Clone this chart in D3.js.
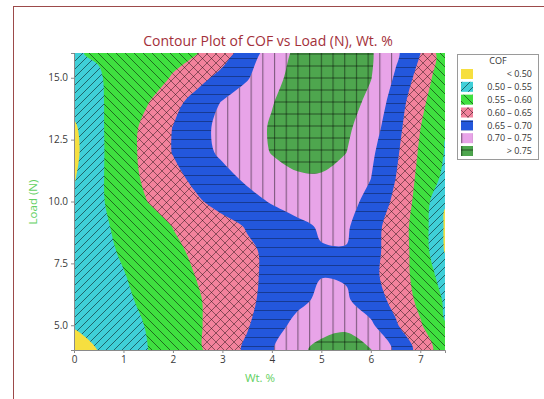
<!DOCTYPE html>
<html>
<head>
<meta charset="utf-8">
<script src="https://cdn.jsdelivr.net/npm/d3@7"></script>
<style>
  body { margin: 0; background: #fff; }
</style>
</head>
<body>
<div id="chart"></div>
<script>
// grid of the fitted COF surface
var wtPct = [0, 0.5, 1, 1.5, 2, 2.5, 3, 3.5, 4, 4.5, 5, 5.5, 6, 6.5, 7, 7.5];
var loadN = [4, 5, 6, 7, 8, 9, 10, 11, 12, 13, 14, 15, 16];

// one row of COF values per load level (columns follow wtPct)
var cof_L4  = [0.470, 0.502, 0.526, 0.550, 0.572, 0.593, 0.624, 0.659, 0.696, 0.737, 0.765, 0.768, 0.752, 0.691, 0.633, 0.570];
var cof_L5  = [0.505, 0.521, 0.535, 0.553, 0.574, 0.595, 0.620, 0.646, 0.682, 0.711, 0.732, 0.743, 0.708, 0.656, 0.605, 0.551];
var cof_L6  = [0.515, 0.529, 0.543, 0.559, 0.577, 0.596, 0.618, 0.641, 0.665, 0.690, 0.708, 0.706, 0.676, 0.636, 0.588, 0.545];
var cof_L7  = [0.520, 0.534, 0.548, 0.566, 0.584, 0.602, 0.622, 0.642, 0.659, 0.675, 0.699, 0.696, 0.662, 0.628, 0.580, 0.530];
var cof_L8  = [0.520, 0.538, 0.555, 0.573, 0.591, 0.609, 0.626, 0.643, 0.659, 0.676, 0.696, 0.698, 0.668, 0.625, 0.580, 0.497];
var cof_L9  = [0.515, 0.540, 0.562, 0.581, 0.601, 0.619, 0.636, 0.653, 0.671, 0.684, 0.707, 0.706, 0.670, 0.626, 0.578, 0.495];
var cof_L10 = [0.508, 0.543, 0.572, 0.601, 0.622, 0.645, 0.665, 0.684, 0.704, 0.727, 0.735, 0.712, 0.690, 0.639, 0.581, 0.502];
var cof_L11 = [0.496, 0.542, 0.579, 0.611, 0.638, 0.663, 0.686, 0.710, 0.735, 0.746, 0.747, 0.729, 0.701, 0.651, 0.586, 0.540];
var cof_L12 = [0.488, 0.541, 0.580, 0.616, 0.652, 0.682, 0.709, 0.731, 0.752, 0.763, 0.764, 0.751, 0.709, 0.660, 0.593, 0.548];
var cof_L13 = [0.493, 0.542, 0.579, 0.614, 0.651, 0.685, 0.712, 0.733, 0.754, 0.771, 0.781, 0.760, 0.722, 0.669, 0.601, 0.552];
var cof_L14 = [0.515, 0.544, 0.572, 0.599, 0.635, 0.670, 0.703, 0.725, 0.748, 0.769, 0.790, 0.772, 0.737, 0.678, 0.612, 0.560];
var cof_L15 = [0.530, 0.547, 0.565, 0.583, 0.603, 0.634, 0.665, 0.696, 0.734, 0.767, 0.794, 0.779, 0.752, 0.694, 0.631, 0.565];
var cof_L16 = [0.548, 0.553, 0.563, 0.576, 0.588, 0.599, 0.629, 0.673, 0.724, 0.759, 0.788, 0.783, 0.755, 0.710, 0.651, 0.570];

// contour levels and legend text
var levels = [0.50, 0.55, 0.60, 0.65, 0.70, 0.75];
var bandLabels = ["< 0.50", "0.50 \u2013 0.55", "0.55 \u2013 0.60", "0.60 \u2013 0.65", "0.65 \u2013 0.70", "0.70 \u2013 0.75", "> 0.75"];

// tick labels
var xTicks = [0, 1, 2, 3, 4, 5, 6, 7];
var yTicks = [5.0, 7.5, 10.0, 12.5, 15.0];

var cofRows = [cof_L4, cof_L5, cof_L6, cof_L7, cof_L8, cof_L9, cof_L10, cof_L11, cof_L12, cof_L13, cof_L14, cof_L15, cof_L16];

// styles for each band (fill colour + hatch pattern)
var bandFill = ["#f6df40", "#3fcfd8", "#3fe03f", "#f2829c", "#2357dc", "#e8a4e8", "#4ea64e"];
var bandHatch = [null, "slash", "back", "cross", "horiz", "vert", "grid"];

var width = 544, height = 399;
var plot = {left: 74, right: 445, top: 53, bottom: 350};

var svg = d3.select("#chart").append("svg")
    .attr("width", width)
    .attr("height", height)
    .style("font-family", "'Open Sans','Noto Sans',sans-serif");

svg.append("rect").attr("width", width).attr("height", height).attr("fill", "#fff");

// outer frame
svg.append("rect")
    .attr("x", 13.5).attr("y", 6.5)
    .attr("width", 560).attr("height", 420)
    .attr("fill", "none")
    .attr("stroke", "#9c4a4a")
    .attr("stroke-width", 1);

var x = d3.scaleLinear().domain([0, 7.5]).range([plot.left, plot.right]);
var y = d3.scaleLinear().domain([4, 16]).range([plot.bottom, plot.top]);

var defs = svg.append("defs");

defs.append("clipPath").attr("id", "plotClip")
    .append("rect")
    .attr("x", plot.left).attr("y", plot.top)
    .attr("width", plot.right - plot.left)
    .attr("height", plot.bottom - plot.top);

// hatch patterns
function addPattern(id, w, h, d, op) {
    defs.append("pattern")
        .attr("id", id)
        .attr("patternUnits", "userSpaceOnUse")
        .attr("width", w).attr("height", h)
        .append("path")
        .attr("d", d)
        .attr("stroke", "#000")
        .attr("stroke-opacity", op)
        .attr("stroke-width", 0.85)
        .attr("fill", "none");
}
addPattern("slash", 8, 8, "M-2,2L2,-2M0,8L8,0M6,10L10,6", 0.6);
addPattern("back", 9, 9, "M-2,7L2,11M0,0L9,9M7,-2L11,2", 0.6);
addPattern("cross", 9, 9, "M-2,2L2,-2M0,9L9,0M7,11L11,7M-2,7L2,11M0,0L9,9M7,-2L11,2", 0.5);
addPattern("horiz", 9, 9, "M0,4.5L9,4.5", 0.4);
addPattern("vert", 11.7, 12, "M5.5,0L5.5,12", 0.6);
addPattern("grid", 11.7, 12, "M5.5,0L5.5,12M0,6L11.7,6", 0.6);

// contours of the grid
var nx = wtPct.length, ny = loadN.length;
var dxStep = wtPct[1] - wtPct[0], dyStep = loadN[1] - loadN[0];
var values = [];
cofRows.forEach(function (row) { row.forEach(function (v) { values.push(v); }); });

var contours = d3.contours()
    .size([nx, ny])
    .thresholds(levels)(values);

// grid sample i sits at i + 0.5 in contour space
var ringLine = d3.line()
    .x(function (p) { return x(wtPct[0] + (p[0] - 0.5) * dxStep); })
    .y(function (p) { return y(loadN[0] + (p[1] - 0.5) * dyStep); })
    .curve(d3.curveCatmullRomClosed.alpha(0.5));

function contourPath(c) {
    return c.coordinates.map(function (poly) {
        return poly.map(function (ring) { return ringLine(ring.slice(0, -1)); }).join("");
    }).join("");
}

var gPlot = svg.append("g").attr("clip-path", "url(#plotClip)");

// lowest band fills the whole plot
gPlot.append("rect")
    .attr("x", plot.left).attr("y", plot.top)
    .attr("width", plot.right - plot.left)
    .attr("height", plot.bottom - plot.top)
    .attr("fill", bandFill[0]);

contours.forEach(function (c, i) {
    var d = contourPath(c);
    if (!d) return;
    gPlot.append("path")
        .attr("d", d)
        .attr("fill", bandFill[i + 1])
        .attr("fill-rule", "evenodd");
    gPlot.append("path")
        .attr("d", d)
        .attr("fill", "url(#" + bandHatch[i + 1] + ")")
        .attr("fill-rule", "evenodd");
});

// axes
var xAxis = svg.append("g")
    .attr("transform", "translate(0," + plot.bottom + ")")
    .call(d3.axisBottom(x).tickValues(xTicks).tickSize(3).tickFormat(d3.format("d")));
var yAxis = svg.append("g")
    .attr("transform", "translate(" + plot.left + ",0)")
    .call(d3.axisLeft(y).tickValues(yTicks).tickSize(3).tickFormat(d3.format(".1f")));

[xAxis, yAxis].forEach(function (a) {
    a.selectAll("path, line").attr("stroke", "#8a8a8a");
    a.selectAll("text")
        .attr("fill", "#3a3a3a")
        .style("font-size", "10px")
        .style("font-family", "'Open Sans','Noto Sans',sans-serif");
});

// title and axis titles
svg.append("text")
    .attr("x", 268).attr("y", 46)
    .attr("text-anchor", "middle")
    .attr("fill", "#a3303a")
    .style("font-size", "14px")
    .text("Contour Plot of COF vs Load (N), Wt. %");

svg.append("text")
    .attr("x", 260).attr("y", 382)
    .attr("text-anchor", "middle")
    .attr("fill", "#62d062")
    .style("font-size", "11.5px")
    .text("Wt. %");

svg.append("text")
    .attr("transform", "translate(37,202) rotate(-90)")
    .attr("text-anchor", "middle")
    .attr("fill", "#62d062")
    .style("font-size", "11.5px")
    .text("Load (N)");

// legend
var legend = svg.append("g");
legend.append("rect")
    .attr("x", 457.5).attr("y", 54.5)
    .attr("width", 81).attr("height", 105)
    .attr("fill", "#fff")
    .attr("stroke", "#9a9a9a");
legend.append("text")
    .attr("x", 498).attr("y", 64)
    .attr("text-anchor", "middle")
    .attr("fill", "#333")
    .style("font-size", "9px")
    .text("COF");

var rowY = d3.scaleLinear().domain([0, 6]).range([74, 151]);
bandLabels.forEach(function (lab, i) {
    var cy = rowY(i);
    legend.append("rect")
        .attr("x", 461).attr("y", cy - 5)
        .attr("width", 12).attr("height", 10)
        .attr("fill", bandFill[i]);
    if (bandHatch[i]) {
        legend.append("rect")
            .attr("x", 461).attr("y", cy - 5)
            .attr("width", 12).attr("height", 10)
            .attr("fill", "url(#" + bandHatch[i] + ")");
    }
    legend.append("text")
        .attr("x", 532).attr("y", cy + 3.2)
        .attr("text-anchor", "end")
        .attr("fill", "#333")
        .style("font-size", "9px")
        .text(lab);
});
</script>
</body>
</html>
